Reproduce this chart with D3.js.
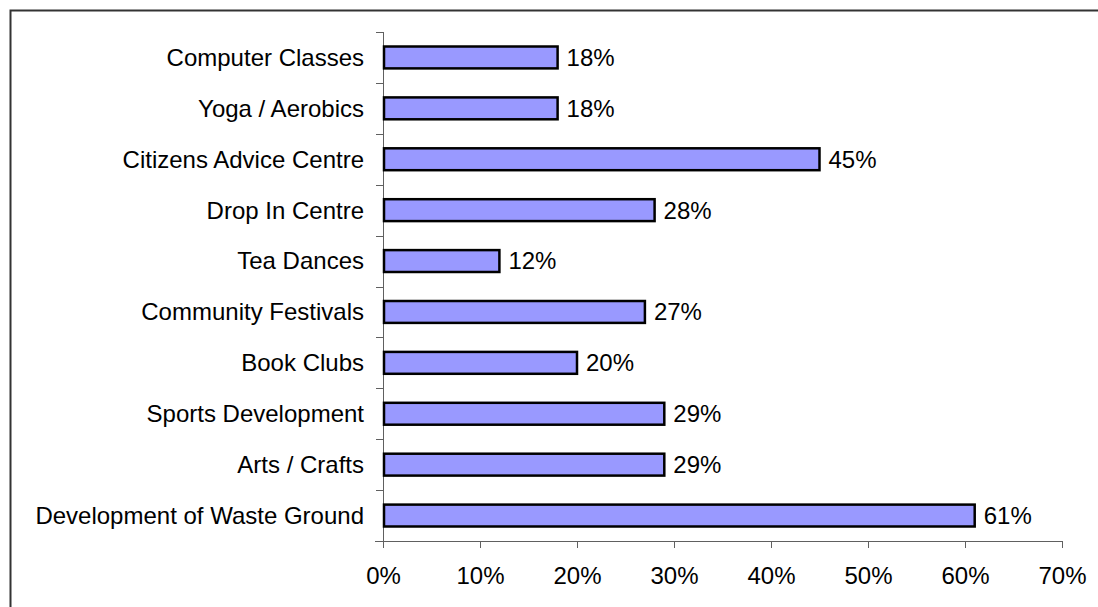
<!DOCTYPE html>
<html>
<head>
<meta charset="utf-8">
<script src="https://cdn.jsdelivr.net/npm/d3@7"></script>
<style>
  body { margin: 0; background: #fff; }
  svg { display: block; font-family: Arial, 'Liberation Sans', sans-serif; }
</style>
</head>
<body>
<div id="chart"></div>
<script>
// Categories from top to bottom, as in the picture
var categories = [
  'Computer Classes',
  'Yoga / Aerobics',
  'Citizens Advice Centre',
  'Drop In Centre',
  'Tea Dances',
  'Community Festivals',
  'Book Clubs',
  'Sports Development',
  'Arts / Crafts',
  'Development of Waste Ground'
]
var values = [18, 18, 45, 28, 12, 27, 20, 29, 29, 61]
var xTicks = [0, 10, 20, 30, 40, 50, 60, 70]

var width = 1098
var height = 607
var margin = { left: 383, right: 36, top: 32, bottom: 66 }
var fontSize = '24px'

var svg = d3.select('#chart').append('svg')
  .attr('width', width)
  .attr('height', height)

// outer frame (only top and left edges fall inside the picture)
svg.append('rect')
  .attr('x', 10.5)
  .attr('y', 10.5)
  .attr('width', width + 20)
  .attr('height', height + 20)
  .attr('fill', 'none')
  .attr('stroke', '#333')
  .attr('stroke-width', 2)

var x = d3.scaleLinear()
  .domain([0, 70])
  .range([margin.left, width - margin.right])

var y = d3.scaleBand()
  .domain(categories)
  .range([margin.top, height - margin.bottom])
  .paddingInner(0.57)
  .paddingOuter(0.285)

var yBound = d3.scaleLinear()
  .domain([0, categories.length])
  .range([margin.top, height - margin.bottom])

var axisColor = '#606060'
var g = svg.append('g')

// x axis
var xAxis = d3.axisBottom(x)
  .tickValues(xTicks)
  .tickSize(7)
  .tickPadding(19)
  .tickFormat(d => d + '%')
g.append('g')
  .attr('transform', 'translate(0,' + (height - margin.bottom) + ')')
  .call(xAxis)
  .call(s => s.select('.domain').attr('d', 'M' + (margin.left - 8) + ',0.5H' + x(70)).attr('stroke', axisColor))
  .call(s => s.selectAll('.tick line').attr('stroke', axisColor))
  .call(s => s.selectAll('.tick text').attr('fill', '#000').style('font-size', fontSize))

// y axis line and category boundary ticks
g.append('line')
  .attr('x1', margin.left + 0.5).attr('x2', margin.left + 0.5)
  .attr('y1', margin.top).attr('y2', height - margin.bottom + 7)
  .attr('stroke', axisColor)
g.append('g').selectAll('line')
  .data(d3.range(categories.length))
  .join('line')
  .attr('x1', margin.left - 7).attr('x2', margin.left)
  .attr('y1', d => Math.round(yBound(d)) + 0.5)
  .attr('y2', d => Math.round(yBound(d)) + 0.5)
  .attr('stroke', axisColor)

// category labels
g.append('g').selectAll('text')
  .data(categories)
  .join('text')
  .attr('x', margin.left - 19)
  .attr('y', d => y(d) + y.bandwidth() / 2)
  .attr('dy', '0.35em')
  .attr('text-anchor', 'end')
  .style('font-size', fontSize)
  .text(d => d)

// bars
g.append('g').selectAll('rect')
  .data(values)
  .join('rect')
  .attr('x', x(0) + 1)
  .attr('y', (d, i) => y(categories[i]))
  .attr('width', d => x(d) - x(0) - 1)
  .attr('height', y.bandwidth())
  .attr('fill', '#9999ff')
  .attr('stroke', '#000')
  .attr('stroke-width', 2.5)

// value labels
g.append('g').selectAll('text')
  .data(values)
  .join('text')
  .attr('x', d => x(d) + 9)
  .attr('y', (d, i) => y(categories[i]) + y.bandwidth() / 2)
  .attr('dy', '0.35em')
  .style('font-size', fontSize)
  .text(d => d + '%')
</script>
</body>
</html>
